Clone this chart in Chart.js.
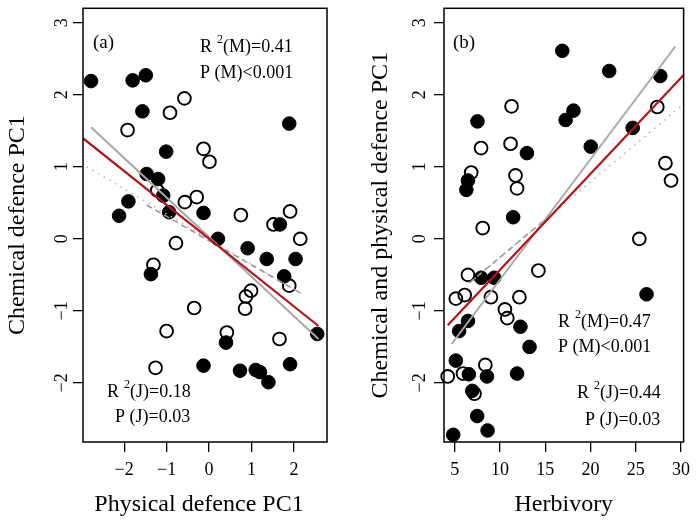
<!DOCTYPE html>
<html>
<head>
<meta charset="utf-8">
<script src="https://cdn.jsdelivr.net/npm/chart.js@4"></script>
<style>
html, body { margin: 0; padding: 0; background: #fff; }
#wrap { position: relative; width: 697px; height: 524px; }
canvas { position: absolute; top: 0; }
</style>
</head>
<body>
<div id="wrap">
  <canvas id="ca" width="348" height="524" style="left:0"></canvas>
  <canvas id="cb" width="349" height="524" style="left:348px"></canvas>
</div>
<script>
// panel (a): physical defence PC1 vs chemical defence PC1
const aFilledX = [-2.78, -1.80, -1.49, -1.57, 1.89, -1.01, -1.47, -1.20, -1.08, -1.90, -2.12, -0.94, -0.13, 1.67, 0.21, 0.91, 1.36, 2.04, -1.37, 1.77, 2.55, 0.40, -0.13, 0.73, 1.10, 1.20, 1.91, 1.40];
const aFilledY = [2.19, 2.20, 2.27, 1.77, 1.60, 1.21, 0.90, 0.83, 0.60, 0.52, 0.32, 0.37, 0.36, 0.20, 0.00, -0.13, -0.28, -0.28, -0.49, -0.52, -1.32, -1.44, -1.76, -1.83, -1.82, -1.85, -1.74, -1.99];
const aOpenX = [-0.58, -0.92, -1.92, -0.13, 0.01, -1.22, -0.57, -0.29, 0.75, 1.91, 1.52, 2.15, -0.78, -1.31, 1.89, 0.99, 0.87, -0.35, 0.85, -1.00, 0.42, 1.66, -1.26];
const aOpenY = [1.95, 1.75, 1.51, 1.25, 1.07, 0.67, 0.51, 0.58, 0.33, 0.38, 0.20, 0.00, -0.06, -0.36, -0.65, -0.72, -0.80, -0.96, -0.97, -1.28, -1.30, -1.39, -1.79];
const aRedX = [-2.98, 2.58], aRedY = [1.40, -1.21];
const aGrayX = [-2.78, 2.58], aGrayY = [1.55, -1.39];
const aDotX = [-2.88, 2.20], aDotY = [1.00, -0.77];
const aDashX = [-1.47, 2.15], aDashY = [0.47, -0.75];
const aXTicks = [-2, -1, 0, 1, 2];

// panel (b): herbivory vs chemical and physical defence PC1
const bFilledX = [16.88, 22.07, 27.72, 7.50, 17.25, 18.12, 24.67, 12.97, 20.03, 6.45, 6.27, 11.45, 7.90, 9.35, 26.20, 6.45, 5.47, 12.25, 13.26, 5.11, 6.55, 8.55, 11.88, 6.92, 7.47, 8.62, 4.82];
const bFilledY = [2.61, 2.33, 2.26, 1.63, 1.65, 1.78, 1.54, 1.19, 1.28, 0.81, 0.68, 0.30, -0.54, -0.54, -0.77, -1.14, -1.28, -1.22, -1.50, -1.69, -1.88, -1.91, -1.87, -2.11, -2.46, -2.66, -2.72];
const bOpenX = [11.27, 27.39, 7.90, 11.16, 28.29, 6.81, 11.71, 28.91, 11.88, 8.08, 25.40, 6.45, 14.24, 5.11, 6.09, 8.99, 12.14, 10.54, 10.80, 8.37, 4.21, 5.90, 7.17];
const bOpenY = [1.84, 1.83, 1.26, 1.32, 1.05, 0.92, 0.88, 0.81, 0.70, 0.15, 0.00, -0.50, -0.44, -0.83, -0.78, -0.81, -0.81, -0.98, -1.10, -1.75, -1.91, -1.87, -2.15];
const bRedX = [4.21, 30.36], bRedY = [-1.20, 2.28];
const bGrayX = [4.64, 29.38], bGrayY = [-1.46, 2.67];
const bDotX = [6.63, 30.2], bDotY = [-0.61, 1.86];
const bDashX = [6.63, 15.0], bDashY = [-0.61, 0.27];
const bXTicks = [5, 10, 15, 20, 25, 30];

const yTicks = [-2, -1, 0, 1, 2, 3];

const FONT = '"Liberation Serif", "Times New Roman", serif';
const fmt = v => v < 0 ? '\u2212' + (-v) : String(v);
const pts = (xs, ys) => xs.map((x, i) => ({ x, y: ys[i] }));

function lineSet(xs, ys, color, width, dash) {
  return { data: pts(xs, ys), showLine: true, pointRadius: 0, borderColor: color,
           borderWidth: width, borderDash: dash || [], fill: false };
}

function pointSets(fx, fy, ox, oy) {
  return [
    { data: pts(ox, oy), pointRadius: 6.4, pointBorderWidth: 1.9, pointBackgroundColor: 'rgba(0,0,0,0)',
      pointBorderColor: '#000', clip: false },
    { data: pts(fx, fy), pointRadius: 6.8, pointBorderWidth: 1, pointBackgroundColor: '#000',
      pointBorderColor: '#000', clip: false },
  ];
}

function drawR2(ctx, x, y, tag) {
  ctx.textAlign = 'left';
  ctx.font = '18px ' + FONT;
  ctx.fillText('R', x, y);
  let w = ctx.measureText('R').width + 5;
  ctx.font = '12px ' + FONT;
  ctx.fillText('2', x + w, y - 7);
  w += ctx.measureText('2').width;
  ctx.font = '18px ' + FONT;
  ctx.fillText(tag, x + w, y);
}

function framePlugin(cfg) {
  return {
    id: 'frame',
    afterDraw(chart) {
      const { ctx, chartArea: ca, scales } = chart;
      ctx.save();
      ctx.strokeStyle = '#000';
      ctx.lineWidth = 1.5;
      ctx.strokeRect(ca.left, ca.top, ca.right - ca.left, ca.bottom - ca.top);
      ctx.fillStyle = '#000';
      ctx.textBaseline = 'middle';
      ctx.textAlign = 'center';
      ctx.font = '18px ' + FONT;
      yTicks.forEach(v => {
        ctx.save();
        ctx.translate(cfg.yLabelX, scales.y.getPixelForValue(v));
        ctx.rotate(-Math.PI / 2);
        ctx.fillText(fmt(v), 0, 0);
        ctx.restore();
      });
      ctx.font = '24px ' + FONT;
      ctx.save();
      ctx.translate(cfg.yTitleX, (ca.top + ca.bottom) / 2);
      ctx.rotate(-Math.PI / 2);
      ctx.fillText(cfg.yTitle, 0, 0);
      ctx.restore();
      ctx.fillText(cfg.xTitle, (ca.left + ca.right) / 2 + cfg.xTitleShift, 505);
      ctx.textAlign = 'left';
      ctx.font = '19px ' + FONT;
      ctx.fillText(cfg.panel, cfg.panelX, 43);
      cfg.notes.forEach(n => {
        if (n.r2) drawR2(ctx, n.x, n.y, n.r2);
        else { ctx.font = '18px ' + FONT; ctx.fillText(n.text, n.x, n.y); }
      });
      ctx.restore();
    }
  };
}

function makeChart(id, cfg) {
  const grid = { drawOnChartArea: false, drawTicks: true, tickLength: 10, color: '#000', lineWidth: 1.3 };
  return new Chart(document.getElementById(id), {
    type: 'scatter',
    data: { datasets: cfg.datasets },
    options: {
      responsive: false,
      animation: false,
      events: [],
      layout: { padding: { left: 0, top: 4, right: cfg.padRight, bottom: 0 } },
      plugins: { legend: { display: false }, tooltip: { enabled: false } },
      scales: {
        x: {
          type: 'linear', min: cfg.xMin, max: cfg.xMax,
          afterBuildTicks: s => { s.ticks = cfg.xTicks.map(v => ({ value: v })); },
          afterFit: s => { s.height = 82; },
          grid, border: { display: false },
          ticks: { autoSkip: false, maxRotation: 0, padding: 7, color: '#000',
                   font: { family: FONT, size: 18 }, callback: v => fmt(v) }
        },
        y: {
          type: 'linear', min: -2.82, max: 3.2,
          afterBuildTicks: s => { s.ticks = yTicks.map(v => ({ value: v })); },
          afterFit: s => { s.width = cfg.yWidth; },
          grid, border: { display: false },
          ticks: { display: false }
        }
      }
    },
    plugins: [framePlugin(cfg)]
  });
}

makeChart('ca', {
  xMin: -2.97, xMax: 2.78, xTicks: aXTicks, yWidth: 83, padRight: 21,
  yLabelX: 62, yTitleX: 18, xTitleShift: -6,
  yTitle: 'Chemical defence PC1', xTitle: 'Physical defence PC1',
  panel: '(a)', panelX: 93,
  notes: [
    { r2: '(M)=0.41', x: 200, y: 47 },
    { text: 'P (M)<0.001', x: 200, y: 73 },
    { r2: '(J)=0.18', x: 107, y: 392 },
    { text: 'P (J)=0.03', x: 115, y: 417 },
  ],
  datasets: [
    lineSet(aRedX, aRedY, '#b3141b', 2.2),
    lineSet(aGrayX, aGrayY, '#a8a8a8', 2),
    lineSet(aDashX, aDashY, '#9a9a9a', 1.6, [6, 4]),
    lineSet(aDotX, aDotY, '#b5b5b5', 1.6, [1.5, 5]),
    ...pointSets(aFilledX, aFilledY, aOpenX, aOpenY),
  ]
});

makeChart('cb', {
  xMin: 3.8, xMax: 30.3, xTicks: bXTicks, yWidth: 96, padRight: 9,
  yLabelX: 72, yTitleX: 33, xTitleShift: 0,
  yTitle: 'Chemical and physical defence PC1', xTitle: 'Herbivory',
  panel: '(b)', panelX: 105,
  notes: [
    { r2: '(M)=0.47', x: 210, y: 322 },
    { text: 'P (M)<0.001', x: 210, y: 347 },
    { r2: '(J)=0.44', x: 229, y: 393 },
    { text: 'P (J)=0.03', x: 237, y: 420 },
  ],
  datasets: [
    lineSet(bRedX, bRedY, '#b3141b', 2.2),
    lineSet(bGrayX, bGrayY, '#a8a8a8', 2),
    lineSet(bDashX, bDashY, '#9a9a9a', 1.6, [6, 4]),
    lineSet(bDotX, bDotY, '#b5b5b5', 1.6, [1.5, 5]),
    ...pointSets(bFilledX, bFilledY, bOpenX, bOpenY),
  ]
});
</script>
</body>
</html>
